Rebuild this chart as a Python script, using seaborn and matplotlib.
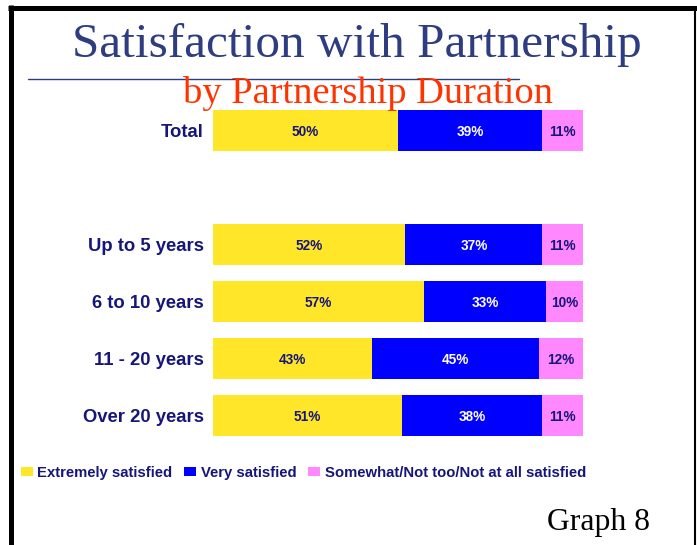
import warnings
warnings.filterwarnings('ignore')

import pandas as pd
import numpy as np
import matplotlib
matplotlib.use('Agg')
import matplotlib.pyplot as plt
from matplotlib.lines import Line2D
from matplotlib.patches import Patch
import seaborn as sns

sns.set_style('white')
plt.rcParams['font.family'] = ['Liberation Sans', 'DejaVu Sans']

# data
lGroups = ['Total', 'Up to 5 years', '6 to 10 years', '11 - 20 years', 'Over 20 years']
vExtremely = [50, 52, 57, 43, 51]
vVery = [39, 37, 33, 45, 38]
vSomewhat = [11, 11, 10, 12, 11]
lSeries = ['Extremely satisfied', 'Very satisfied', 'Somewhat/Not too/Not at all satisfied']
lColors = ['#FFE629', '#0000FF', '#FF88FF']
# blank slot between Total and the duration groups
lOrder = ['Total', ' ', 'Up to 5 years', '6 to 10 years', '11 - 20 years', 'Over 20 years']

NAVY = '#16167a'

df = pd.DataFrame({'group': lGroups, 'ext': vExtremely, 'very': vVery, 'some': vSomewhat})
df['c1'] = df['ext']
df['c2'] = df['ext'] + df['very']
df['c3'] = df['c2'] + df['some']

fig = plt.figure(figsize=(6.97, 5.45), dpi=100)
ax = fig.add_axes([213 / 697, (545 - 444) / 545, 370 / 697, 342 / 545])

# stacked bars: draw cumulative totals back to front
for vCol, vColor in [('c3', lColors[2]), ('c2', lColors[1]), ('c1', lColors[0])]:
    sns.barplot(data=df, x=vCol, y='group', order=lOrder, orient='h', color=vColor,
                saturation=1, width=0.73, ax=ax, edgecolor='none', linewidth=0)

# percentage labels centred in each segment
yPos = {g: lOrder.index(g) for g in lGroups}
for _, r in df.iterrows():
    y = yPos[r['group']]
    ax.text(r['ext'] / 2, y, '%d%%' % r['ext'], ha='center', va='center_baseline',
            fontsize=9.8, fontweight='bold', color=NAVY)
    ax.text(r['c1'] + r['very'] / 2, y, '%d%%' % r['very'], ha='center', va='center_baseline',
            fontsize=9.8, fontweight='bold', color='white')
    ax.text(r['c2'] + r['some'] / 2, y, '%d%%' % r['some'], ha='center', va='center_baseline',
            fontsize=9.8, fontweight='bold', color=NAVY)

ax.set_xlim(0, 100)
ax.set_ylim(len(lOrder) - 0.5, -0.5)
ax.set_xlabel('')
ax.set_ylabel('')
ax.set_xticks([])
ax.tick_params(axis='y', length=0, pad=6.5)
for t in ax.get_yticklabels():
    t.set_fontsize(13.3)
    t.set_fontweight('bold')
    t.set_color(NAVY)
    t.set_verticalalignment('center_baseline')
sns.despine(ax=ax, left=True, bottom=True)

# titles
fig.text(357 / 697, 1 - 57 / 545, 'Satisfaction with Partnership', ha='center', va='baseline',
         fontsize=35.5, family='Liberation Serif', color='#2E3D80')
fig.add_artist(Line2D([28 / 697, 519 / 697], [1 - 79 / 545, 1 - 79 / 545], color='#2E3D80', lw=1))
fig.text(368 / 697, 1 - 103 / 545, 'by Partnership Duration', ha='center', va='baseline',
         fontsize=27.7, family='Liberation Serif', color='#FF3300')

# legend
lHandles = [Patch(facecolor=c, edgecolor='none') for c in lColors]
leg = fig.legend(lHandles, lSeries, loc='center left', bbox_to_anchor=(21 / 697, 1 - 473 / 545),
                 ncol=3, frameon=False, handlelength=0.8, handleheight=0.55, handletextpad=0.3,
                 columnspacing=0.8, borderaxespad=0, borderpad=0, prop={'size': 10.7, 'weight': 'bold'})
for t in leg.get_texts():
    t.set_color(NAVY)

fig.text(650 / 697, 1 - 530 / 545, 'Graph 8', ha='right', va='baseline',
         fontsize=22.8, family='Liberation Serif', color='black')

# page frame
fig.add_artist(Line2D([10.5 / 697, 10.5 / 697], [0, 1 - 5 / 545], color='black', lw=3.6,
                      solid_capstyle='butt'))
fig.add_artist(Line2D([8 / 697, 1], [1 - 7.5 / 545, 1 - 7.5 / 545], color='black', lw=3.6,
                      solid_capstyle='butt'))
fig.add_artist(Line2D([694.5 / 697, 694.5 / 697], [0, 1 - 7 / 545], color='black', lw=1.5,
                      solid_capstyle='butt'))

fig.savefig('out.png', dpi=100)
